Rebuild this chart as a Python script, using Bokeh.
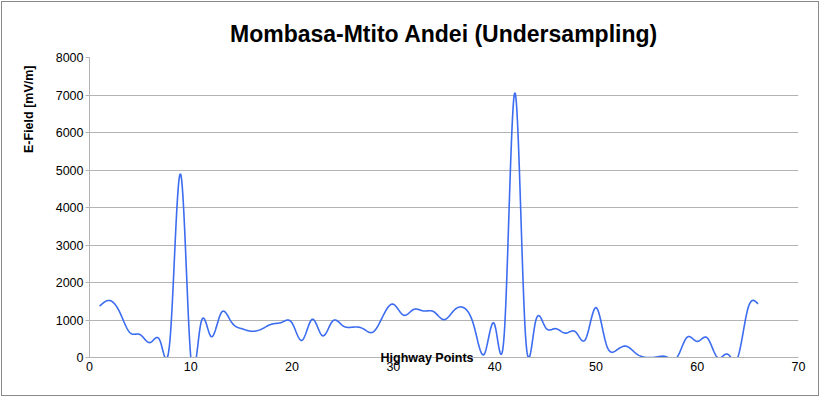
import numpy as np
from bokeh.plotting import figure
from bokeh.models import FixedTicker, ColumnDataSource, Title
from bokeh.embed import file_html
from bokeh.resources import INLINE

# ---- data ----
points = list(range(1, 67))
efield = [1370, 1520, 1200, 660, 610, 400, 420, 650, 4890, 0,
          920, 560, 1190, 950, 770, 700, 760, 890, 940, 920,
          460, 1020, 580, 970, 850, 810, 770, 680, 1120, 1420,
          1130, 1280, 1240, 1220, 1010, 1260, 1320, 800, 100, 880,
          850, 7060, 800, 910, 810, 770, 650, 680, 500, 1330,
          370, 190, 300, 100, 0, 15, 15, 0, 540, 430,
          520, 0, 90, 0, 1300, 1430]
x_ticks = [0, 10, 20, 30, 40, 50, 60, 70]
y_ticks = [0, 1000, 2000, 3000, 4000, 5000, 6000, 7000, 8000]
title_text = "Mombasa-Mtito Andei (Undersampling)"
x_label = "Highway Points"
y_label = "E-Field [mV/m]"


def smooth_line(xs, ys, per=20):
    """Natural cubic-spline rendering of the line through the data points."""
    xs = np.asarray(xs, float)
    ys = np.asarray(ys, float)
    n = len(xs)
    h = np.diff(xs)
    A = np.zeros((n, n))
    r = np.zeros(n)
    A[0, 0] = 1
    A[-1, -1] = 1
    for i in range(1, n - 1):
        A[i, i - 1] = h[i - 1]
        A[i, i] = 2 * (h[i - 1] + h[i])
        A[i, i + 1] = h[i]
        r[i] = 6 * ((ys[i + 1] - ys[i]) / h[i] - (ys[i] - ys[i - 1]) / h[i - 1])
    M = np.linalg.solve(A, r)
    ox, oy = [], []
    for i in range(n - 1):
        xx = np.linspace(xs[i], xs[i + 1], per, endpoint=False)
        a = xs[i + 1] - xx
        b = xx - xs[i]
        yy = (M[i] * a ** 3 + M[i + 1] * b ** 3) / (6 * h[i]) \
            + (ys[i] / h[i] - M[i] * h[i] / 6) * a \
            + (ys[i + 1] / h[i] - M[i + 1] * h[i] / 6) * b
        ox.extend(xx)
        oy.extend(yy)
    ox.append(xs[-1])
    oy.append(ys[-1])
    return ox, oy


sx, sy = smooth_line(points, efield)
src = ColumnDataSource(dict(x=sx, y=sy))

p = figure(width=818, height=395, x_range=(0, 70), y_range=(0, 8000),
           output_backend="svg", toolbar_location=None,
           min_border_left=87, min_border_right=22,
           min_border_top=55, min_border_bottom=40)
p.styles = {"border": "1px solid #8a8a8a", "margin": "1px"}
p.outline_line_color = None
p.background_fill_color = "white"
p.border_fill_color = "white"

p.line("x", "y", source=src, line_color="#3c6cf0", line_width=1.6)

grid_col = "#b3b3b3"
p.xgrid.grid_line_color = None
p.ygrid.grid_line_color = grid_col
p.ygrid.grid_line_width = 1

p.xaxis.ticker = FixedTicker(ticks=x_ticks)
p.yaxis.ticker = FixedTicker(ticks=y_ticks)
for ax in (p.xaxis, p.yaxis):
    ax.axis_line_color = grid_col
    ax.major_label_text_font = "Liberation Sans"
    ax.major_label_text_font_size = "12.5px"
    ax.major_label_text_color = "#000000"
    ax.minor_tick_line_color = None
p.xaxis.major_tick_line_color = None
p.xaxis.major_tick_out = 0
p.xaxis.major_tick_in = 0
p.xaxis.major_label_standoff = 4
p.yaxis.major_tick_line_color = grid_col
p.yaxis.major_tick_out = 4
p.yaxis.major_tick_in = 0
p.yaxis.major_label_standoff = 2

p.title.text = title_text
p.title.align = "center"
p.title.text_font = "Liberation Sans"
p.title.text_font_size = "23px"
p.title.text_font_style = "bold"
p.title.text_color = "#000000"
p.title.standoff = 22

p.add_layout(Title(text=y_label, align="right", offset=8, standoff=34,
                   text_font="Liberation Sans", text_font_size="12.5px",
                   text_font_style="bold", text_color="#000000"), "left")
p.add_layout(Title(text=x_label, align="left", offset=291, standoff=-46,
                   vertical_align="top",
                   text_font="Liberation Sans", text_font_size="12.5px",
                   text_font_style="bold", text_color="#000000"), "below")

open("out.html", "w").write(file_html(p, INLINE))
